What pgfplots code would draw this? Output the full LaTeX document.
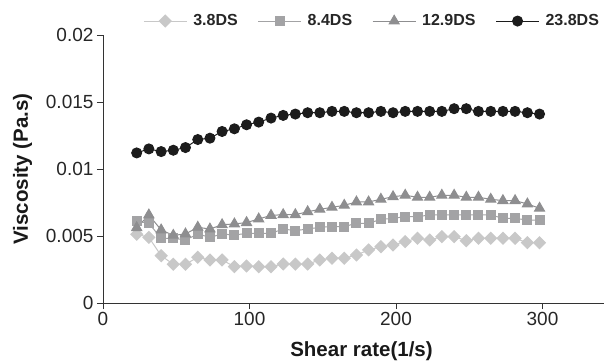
\documentclass[border=0pt]{standalone}
\usepackage{pgfplots}
\pgfplotsset{compat=1.18}
\usepackage{fontspec}
\setmainfont{Liberation Sans}
\definecolor{cDia}{HTML}{C8C8C8}
\definecolor{cSq}{HTML}{A3A3A5}
\definecolor{cTri}{HTML}{8E8E90}
\definecolor{cCir}{HTML}{1C1C1C}
\begin{document}
\begin{tikzpicture}
\path[use as bounding box] (-103bp,-58bp) rectangle (501bp,303bp);
\begin{axis}[
  scale only axis, width=501bp, height=268bp,
  xmin=0, xmax=342, ymin=0, ymax=0.02,
  scaled y ticks=false, scaled x ticks=false,
  axis x line*=bottom, axis y line*=left,
  axis line style={-, draw=black!80, line width=0.9bp},
  tick align=outside, major tick length=6bp,
  tick style={black!80, line width=0.9bp},
  xtick={0,100,200,300}, xticklabels={0,100,200,300},
  ytick={0,0.005,0.01,0.015,0.02}, yticklabels={0,0.005,0.01,0.015,0.02},
  ticklabel style={font=\fontsize{19bp}{22bp}\selectfont, text=black!85},
  xlabel={Shear rate(1/s)}, ylabel={Viscosity (Pa.s)},
  label style={font=\bfseries\fontsize{20.5bp}{24bp}\selectfont, text=black!90},
  xlabel style={xshift=8bp, yshift=-9bp},
  ylabel style={yshift=7bp},
  legend columns=-1,
  legend style={draw=none, fill=none, at={(axis description cs:0.074,1.052)}, anchor=west,
    font=\bfseries\fontsize{16bp}{19bp}\selectfont, text=black!85,
    nodes={inner sep=0pt},
    /tikz/every odd column/.append style={column sep=6bp},
    /tikz/every even column/.append style={column sep=20bp}},
  legend image code/.code={\draw[mark repeat=2,mark phase=2,#1] plot coordinates {(0bp,0bp)(21.5bp,0bp)(43bp,0bp)};},
]
\addplot[color=cDia, line width=1bp, mark=square*, mark size=4.2bp, mark options={rotate=45, fill=cDia, draw=cDia}] coordinates {
(23,0.00513)(31.3,0.0049)(39.7,0.00353)(48,0.00289)(56.3,0.00289)(64.7,0.00341)(73,0.00321)(81.3,0.00321)(89.7,0.00271)(98,0.00276)(106.3,0.00271)(114.7,0.00271)(123,0.00291)(131.3,0.0029)(139.7,0.00291)(148,0.00321)(156.3,0.00334)(164.7,0.00334)(173,0.00358)(181.3,0.00396)(189.7,0.0042)(198,0.00433)(206.3,0.00458)(214.7,0.00483)(223,0.0047)(231.3,0.00495)(239.7,0.00495)(248,0.00465)(256.3,0.00483)(264.7,0.00483)(273,0.00483)(281.3,0.00483)(289.7,0.0045)(298,0.0045)};
\addlegendentry{3.8DS}
\addplot[color=cSq, line width=1bp, mark=square*, mark size=4.5bp, mark options={fill=cSq, draw=cSq}] coordinates {
(23,0.0061)(31.3,0.00595)(39.7,0.00483)(48,0.00483)(56.3,0.0047)(64.7,0.00515)(73,0.0049)(81.3,0.00515)(89.7,0.00507)(98,0.0052)(106.3,0.0052)(114.7,0.0052)(123,0.00552)(131.3,0.0054)(139.7,0.00552)(148,0.00565)(156.3,0.0057)(164.7,0.0057)(173,0.00595)(181.3,0.00595)(189.7,0.00624)(198,0.00632)(206.3,0.00644)(214.7,0.00644)(223,0.00657)(231.3,0.00657)(239.7,0.00657)(248,0.00657)(256.3,0.00657)(264.7,0.00657)(273,0.00632)(281.3,0.00632)(289.7,0.00619)(298,0.00619)};
\addlegendentry{8.4DS}
\addplot[color=cTri, line width=1bp, mark=triangle*, mark size=5.8bp, mark options={fill=cTri, draw=cTri}] coordinates {
(23,0.00562)(31.3,0.00657)(39.7,0.00545)(48,0.00505)(56.3,0.00515)(64.7,0.00565)(73,0.00552)(81.3,0.00584)(89.7,0.0059)(98,0.006)(106.3,0.00627)(114.7,0.00654)(123,0.00659)(131.3,0.00659)(139.7,0.00681)(148,0.00699)(156.3,0.00714)(164.7,0.00729)(173,0.00754)(181.3,0.00754)(189.7,0.00774)(198,0.00793)(206.3,0.00804)(214.7,0.00789)(223,0.00789)(231.3,0.00804)(239.7,0.00804)(248,0.00789)(256.3,0.00789)(264.7,0.00774)(273,0.00764)(281.3,0.00764)(289.7,0.00739)(298,0.00707)};
\addlegendentry{12.9DS}
\addplot[color=cCir, line width=1bp, mark=*, mark size=5bp, mark options={fill=cCir, draw=cCir}] coordinates {
(23,0.0112)(31.3,0.0115)(39.7,0.0113)(48,0.0114)(56.3,0.0116)(64.7,0.0122)(73,0.0123)(81.3,0.0128)(89.7,0.0130)(98,0.0133)(106.3,0.0135)(114.7,0.0138)(123,0.0140)(131.3,0.0141)(139.7,0.0142)(148,0.0142)(156.3,0.0143)(164.7,0.0143)(173,0.0142)(181.3,0.0142)(189.7,0.0143)(198,0.0142)(206.3,0.0143)(214.7,0.0143)(223,0.0143)(231.3,0.0143)(239.7,0.0145)(248,0.0145)(256.3,0.0143)(264.7,0.0143)(273,0.0143)(281.3,0.0143)(289.7,0.0142)(298,0.0141)};
\addlegendentry{23.8DS}
\end{axis}
\end{tikzpicture}
\end{document}
